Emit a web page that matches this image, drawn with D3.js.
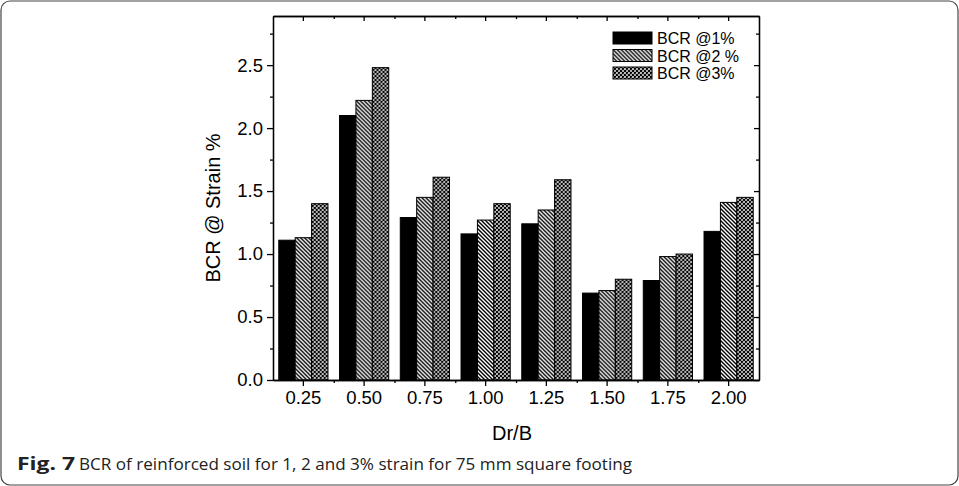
<!DOCTYPE html>
<html>
<head>
<meta charset="utf-8">
<script src="https://cdn.jsdelivr.net/npm/d3@7"></script>
<style>
  body { margin: 0; background: #fff; }
  svg { display: block; }
  .axis path, .axis line { stroke: #000; stroke-width: 1.3; }
  .axis text { font-family: "Liberation Sans", Arial, sans-serif; font-size: 18.5px; fill: #000; }
</style>
</head>
<body>
<div id="chart_div"></div>
<script>
//------------------------------DATA------------------------------//
const categories = ["0.25", "0.50", "0.75", "1.00", "1.25", "1.50", "1.75", "2.00"];
const seriesNames = ["BCR @1%", "BCR @2 %", "BCR @3%"];
const bcr1 = [1.11, 2.10, 1.29, 1.16, 1.24, 0.69, 0.79, 1.18];
const bcr2 = [1.13, 2.22, 1.45, 1.27, 1.35, 0.71, 0.98, 1.41];
const bcr3 = [1.40, 2.48, 1.61, 1.40, 1.59, 0.80, 1.00, 1.45];
const yMajorTicks = [0, 0.5, 1.0, 1.5, 2.0, 2.5];
const yMinorTicks = [0.25, 0.75, 1.25, 1.75, 2.25, 2.75];

const series = [bcr1, bcr2, bcr3];

//-----------------------------SVG--------------------------------//
const W = 959, H = 486;
const plot = { left: 273, right: 759, top: 16, bottom: 380 };

const svg = d3.select("#chart_div").append("svg")
  .attr("width", W)
  .attr("height", H);

// patterns
const defs = svg.append("defs");
const hatch = defs.append("pattern")
  .attr("id", "hatch")
  .attr("patternUnits", "userSpaceOnUse")
  .attr("width", 4).attr("height", 4);
hatch.append("rect").attr("width", 4).attr("height", 4).attr("fill", "#fff");
hatch.append("path")
  .attr("d", "M-1,-1 L5,5 M-1,3 L1,5 M3,-1 L5,1")
  .attr("stroke", "#000").attr("stroke-width", 1.4);

const cross = defs.append("pattern")
  .attr("id", "cross")
  .attr("patternUnits", "userSpaceOnUse")
  .attr("width", 4).attr("height", 4);
cross.append("rect").attr("width", 4).attr("height", 4).attr("fill", "#fff");
cross.append("path")
  .attr("d", "M-1,-1 L5,5 M-1,3 L1,5 M3,-1 L5,1 M-1,5 L5,-1 M-1,1 L1,-1 M3,5 L5,3")
  .attr("stroke", "#000").attr("stroke-width", 1.2);

const fills = ["#000", "url(#hatch)", "url(#cross)"];

// outer frame
svg.append("rect")
  .attr("x", 1).attr("y", 1)
  .attr("width", W - 2).attr("height", H - 2)
  .attr("rx", 9)
  .attr("fill", "none")
  .attr("stroke", "#444")
  .attr("stroke-width", 1.2);

//----------------------------SCALES------------------------------//
const x = d3.scaleBand()
  .domain(categories)
  .range([plot.left, plot.right])
  .paddingInner(0.19)
  .paddingOuter(0.095);

const xSub = d3.scaleBand()
  .domain(d3.range(series.length))
  .range([0, x.bandwidth()]);

const xMinor = d3.scaleLinear()
  .domain([0, categories.length])
  .range([plot.left, plot.right]);

const y = d3.scaleLinear()
  .domain([0, 2.89])
  .range([plot.bottom, plot.top]);

//-----------------------------BARS-------------------------------//
const groups = svg.append("g").attr("class", "bars")
  .selectAll("g")
  .data(categories)
  .enter().append("g")
  .attr("transform", d => "translate(" + x(d) + ",0)");

groups.selectAll("rect")
  .data((c, i) => series.map((s, k) => ({ k: k, v: s[i] })))
  .enter().append("rect")
  .attr("x", d => xSub(d.k))
  .attr("width", xSub.bandwidth())
  .attr("y", d => y(d.v))
  .attr("height", d => y(0) - y(d.v))
  .attr("fill", d => fills[d.k])
  .attr("stroke", "#000")
  .attr("stroke-width", 1);

//-----------------------------AXES-------------------------------//
// bottom
svg.append("g")
  .attr("class", "axis")
  .attr("transform", "translate(0," + plot.bottom + ")")
  .call(d3.axisBottom(x).tickSize(6).tickSizeOuter(0).tickPadding(5));
svg.append("g")
  .attr("class", "axis")
  .attr("transform", "translate(0," + plot.bottom + ")")
  .call(d3.axisBottom(xMinor).tickValues(d3.range(1, categories.length))
    .tickFormat("").tickSize(3).tickSizeOuter(0));

// top (inward)
svg.append("g")
  .attr("class", "axis")
  .attr("transform", "translate(0," + plot.top + ")")
  .call(d3.axisTop(x).tickSize(-5).tickSizeOuter(0).tickFormat(""));
svg.append("g")
  .attr("class", "axis")
  .attr("transform", "translate(0," + plot.top + ")")
  .call(d3.axisTop(xMinor).tickValues(d3.range(1, categories.length))
    .tickFormat("").tickSize(-3).tickSizeOuter(0));

// left
svg.append("g")
  .attr("class", "axis")
  .attr("transform", "translate(" + plot.left + ",0)")
  .call(d3.axisLeft(y).tickValues(yMajorTicks).tickFormat(d3.format(".1f"))
    .tickSize(6).tickSizeOuter(0).tickPadding(4));
svg.append("g")
  .attr("class", "axis")
  .attr("transform", "translate(" + plot.left + ",0)")
  .call(d3.axisLeft(y).tickValues(yMinorTicks).tickFormat("")
    .tickSize(3).tickSizeOuter(0));

// right (inward)
svg.append("g")
  .attr("class", "axis")
  .attr("transform", "translate(" + plot.right + ",0)")
  .call(d3.axisRight(y).tickValues(yMajorTicks).tickFormat("")
    .tickSize(-5).tickSizeOuter(0));
svg.append("g")
  .attr("class", "axis")
  .attr("transform", "translate(" + plot.right + ",0)")
  .call(d3.axisRight(y).tickValues(yMinorTicks).tickFormat("")
    .tickSize(-3).tickSizeOuter(0));

// axis titles
svg.append("text")
  .attr("x", 512).attr("y", 440)
  .attr("text-anchor", "middle")
  .style("font-family", "'Liberation Sans', Arial, sans-serif")
  .style("font-size", "20px")
  .text("Dr/B");

svg.append("text")
  .attr("transform", "translate(220," + ((plot.top + plot.bottom) / 2 + 10) + ") rotate(-90)")
  .attr("text-anchor", "middle")
  .style("font-family", "'Liberation Sans', Arial, sans-serif")
  .style("font-size", "20px")
  .text("BCR @ Strain %");

//----------------------------LEGEND------------------------------//
const legend = svg.append("g")
  .attr("class", "legend")
  .attr("transform", "translate(613,32)");

const items = legend.selectAll("g")
  .data(seriesNames)
  .enter().append("g")
  .attr("transform", (d, i) => "translate(0," + i * 17.5 + ")");

items.append("rect")
  .attr("width", 39).attr("height", 12)
  .attr("fill", (d, i) => fills[i])
  .attr("stroke", "#000")
  .attr("stroke-width", 1);

items.append("text")
  .attr("x", 44).attr("y", 12)
  .style("font-family", "'Liberation Sans', Arial, sans-serif")
  .style("font-size", "16px")
  .text(d => d);

//----------------------------CAPTION-----------------------------//
const caption = svg.append("text")
  .attr("y", 470)
  .style("font-family", "'Open Sans', 'Noto Sans', sans-serif")
  .style("font-size", "17px")
  .style("fill", "#222");
caption.append("tspan")
  .attr("x", 17)
  .attr("textLength", 58)
  .attr("lengthAdjust", "spacingAndGlyphs")
  .style("font-weight", "bold")
  .text("Fig. 7");
caption.append("tspan")
  .attr("x", 79)
  .attr("textLength", 553)
  .attr("lengthAdjust", "spacingAndGlyphs")
  .text("BCR of reinforced soil for 1, 2 and 3% strain for 75 mm square footing");
</script>
</body>
</html>
